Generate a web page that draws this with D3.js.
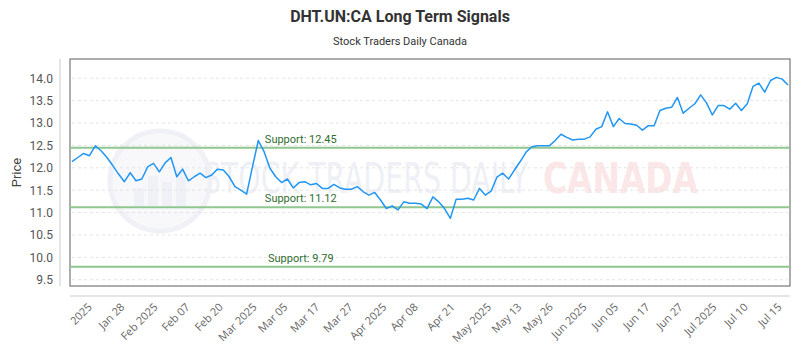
<!DOCTYPE html>
<html>
<head>
<meta charset="utf-8">
<script src="https://cdn.jsdelivr.net/npm/d3@7"></script>
<style>
  body { margin: 0; background: #fff; }
  svg { font-family: Roboto, "Open Sans", sans-serif; }
</style>
</head>
<body>
<div id="chart"></div>
<script>
// closing prices, one per session
const prices = [
  12.14, 12.23, 12.32, 12.27, 12.49, 12.38, 12.23, 12.05, 11.86, 11.69,
  11.89, 11.71, 11.75, 12.02, 12.10, 11.91, 12.11, 12.23, 11.80, 11.97,
  11.71, 11.80, 11.88, 11.78, 11.84, 11.97, 11.95, 11.80, 11.58, 11.50,
  11.41, 12.02, 12.61, 12.36, 11.99, 11.80, 11.67, 11.75, 11.55, 11.67,
  11.69, 11.62, 11.65, 11.54, 11.54, 11.63, 11.55, 11.52, 11.52, 11.58,
  11.47, 11.39, 11.45, 11.28, 11.09, 11.15, 11.06, 11.24, 11.21, 11.21,
  11.19, 11.09, 11.35, 11.24, 11.09, 10.87, 11.30, 11.30, 11.32, 11.28,
  11.54, 11.39, 11.48, 11.79, 11.88, 11.75, 11.95, 12.14, 12.35, 12.47,
  12.49, 12.49, 12.49, 12.61, 12.75, 12.68, 12.62, 12.64, 12.64, 12.69,
  12.86, 12.92, 13.25, 12.92, 13.10, 12.99, 12.98, 12.95, 12.84, 12.94,
  12.94, 13.28, 13.33, 13.35, 13.57, 13.22, 13.33, 13.43, 13.63, 13.45,
  13.18, 13.39, 13.39, 13.31, 13.44, 13.28, 13.43, 13.82, 13.89, 13.69,
  13.95, 14.02, 13.98, 13.85
];

const tickLabels = ["2025", "Jan 28", "Feb 2025", "Feb 07", "Feb 20", "Mar 2025",
  "Mar 05", "Mar 17", "Mar 27", "Apr 2025", "Apr 08", "Apr 21", "May 2025",
  "May 13", "May 26", "Jun 2025", "Jun 05", "Jun 17", "Jun 27", "Jul 2025",
  "Jul 10", "Jul 15"];
// position of each label along the session index
const tickIndex = [3.0, 8.6, 14.3, 19.8, 25.5, 31.3, 36.6, 42.1, 47.8, 53.6, 59.0,
  65.3, 71.6, 76.8, 82.2, 88.0, 93.4, 98.8, 104.5, 110.3, 115.7, 121.5];

const yTicks = [9.5, 10.0, 10.5, 11.0, 11.5, 12.0, 12.5, 13.0, 13.5, 14.0];
const supports = [12.45, 11.12, 9.79];

const width = 800, height = 350;
const plot = { l: 70, r: 790, t: 59, b: 286 };

const svg = d3.select('#chart').append('svg')
  .attr('width', width)
  .attr('height', height);

const x = d3.scaleLinear()
  .domain([0, prices.length - 1])
  .range([plot.l + 2, plot.r - 2]);

const y = d3.scaleLinear()
  .domain([9.36, 14.43])
  .range([plot.b, plot.t]);

// ----- titles -----
svg.append('text')
  .attr('x', width / 2).attr('y', 22)
  .attr('text-anchor', 'middle')
  .attr('font-size', 16).attr('font-weight', 'bold')
  .attr('fill', '#333')
  .text('DHT.UN:CA Long Term Signals');

svg.append('text')
  .attr('x', width / 2).attr('y', 45)
  .attr('text-anchor', 'middle')
  .attr('font-size', 11)
  .attr('fill', '#333')
  .text('Stock Traders Daily Canada');

svg.append('text')
  .attr('transform', `translate(21,${(plot.t + plot.b) / 2}) rotate(-90)`)
  .attr('text-anchor', 'middle')
  .attr('font-size', 13)
  .attr('fill', '#444')
  .text('Price');

// ----- watermark (faint logo behind the plot) -----
const wm = svg.append('g').attr('opacity', 0.4);
wm.append('circle')
  .attr('cx', 160).attr('cy', 181).attr('r', 50)
  .attr('fill', '#eef0f7').attr('stroke', '#d9deeb').attr('stroke-width', 5);
[[-26, 18], [-12, 30], [2, 24], [16, 36]].forEach(([dx, h]) => {
  wm.append('rect')
    .attr('x', 160 + dx).attr('y', 206 - h)
    .attr('width', 10).attr('height', h)
    .attr('fill', '#d9deeb');
});
wm.append('text')
  .attr('x', 203).attr('y', 193)
  .attr('font-size', 42)
  .attr('font-family', '"DejaVu Sans Condensed", "Liberation Sans Narrow", sans-serif')
  .attr('textLength', 325).attr('lengthAdjust', 'spacingAndGlyphs')
  .attr('fill', '#d6dcea')
  .text('STOCK TRADERS DAILY');
wm.append('text')
  .attr('x', 543).attr('y', 193)
  .attr('font-size', 42).attr('font-weight', 'bold')
  .attr('font-family', '"DejaVu Sans", sans-serif')
  .attr('textLength', 155).attr('lengthAdjust', 'spacingAndGlyphs')
  .attr('fill', '#f6c4c4')
  .text('CANADA');

// ----- grid -----
svg.append('g')
  .selectAll('line')
  .data(yTicks)
  .join('line')
    .attr('x1', plot.l + 2).attr('x2', plot.r - 2)
    .attr('y1', d => y(d)).attr('y2', d => y(d))
    .attr('stroke', '#e4e4e4')
    .attr('stroke-dasharray', '3,3');

// ----- frame -----
svg.append('rect')
  .attr('x', plot.l).attr('y', plot.t)
  .attr('width', plot.r - plot.l).attr('height', plot.b - plot.t)
  .attr('fill', 'none')
  .attr('stroke', '#777')
  .attr('stroke-width', 1.2);

// ----- y axis -----
const yAxis = svg.append('g')
  .attr('transform', 'translate(60,0)')
  .call(d3.axisLeft(y).tickValues(yTicks).tickFormat(d3.format('.1f')).tickSize(0).tickPadding(7));
yAxis.select('.domain').attr('stroke', '#ccc').attr('d', `M0,${plot.t}V${plot.b}`);
yAxis.selectAll('text').attr('font-size', 12).attr('fill', '#555').attr('font-family', 'Roboto, sans-serif');

// ----- x axis -----
const xAxis = svg.append('g')
  .attr('transform', 'translate(0,296)')
  .call(d3.axisBottom(x).tickValues(tickIndex)
    .tickFormat((d, i) => tickLabels[i]).tickSize(0).tickPadding(0));
xAxis.select('.domain').attr('stroke', '#ccc').attr('d', `M${plot.l},0H${plot.r}`);
xAxis.selectAll('text')
  .attr('font-size', 11)
  .attr('fill', '#666')
  .attr('font-family', '"Open Sans", sans-serif')
  .attr('text-anchor', 'end')
  .attr('dy', '0.35em')
  .attr('transform', 'translate(0,9) rotate(-45)');

// ----- support lines -----
const sup = svg.append('g');
sup.selectAll('line')
  .data(supports)
  .join('line')
    .attr('x1', plot.l).attr('x2', plot.r)
    .attr('y1', d => y(d)).attr('y2', d => y(d))
    .attr('stroke', '#90c690')
    .attr('stroke-width', 2);
sup.selectAll('text')
  .data(supports)
  .join('text')
    .attr('x', x(39.3))
    .attr('y', d => y(d) - 5)
    .attr('text-anchor', 'middle')
    .attr('font-size', 11)
    .attr('fill', '#2f6e2f')
    .text(d => `Support: ${d}`);

// ----- price line -----
svg.append('path')
  .datum(prices)
  .attr('fill', 'none')
  .attr('stroke', '#2196f3')
  .attr('stroke-width', 1.5)
  .attr('stroke-linejoin', 'round')
  .attr('d', d3.line().x((d, i) => x(i)).y(d => y(d)));
</script>
</body>
</html>
